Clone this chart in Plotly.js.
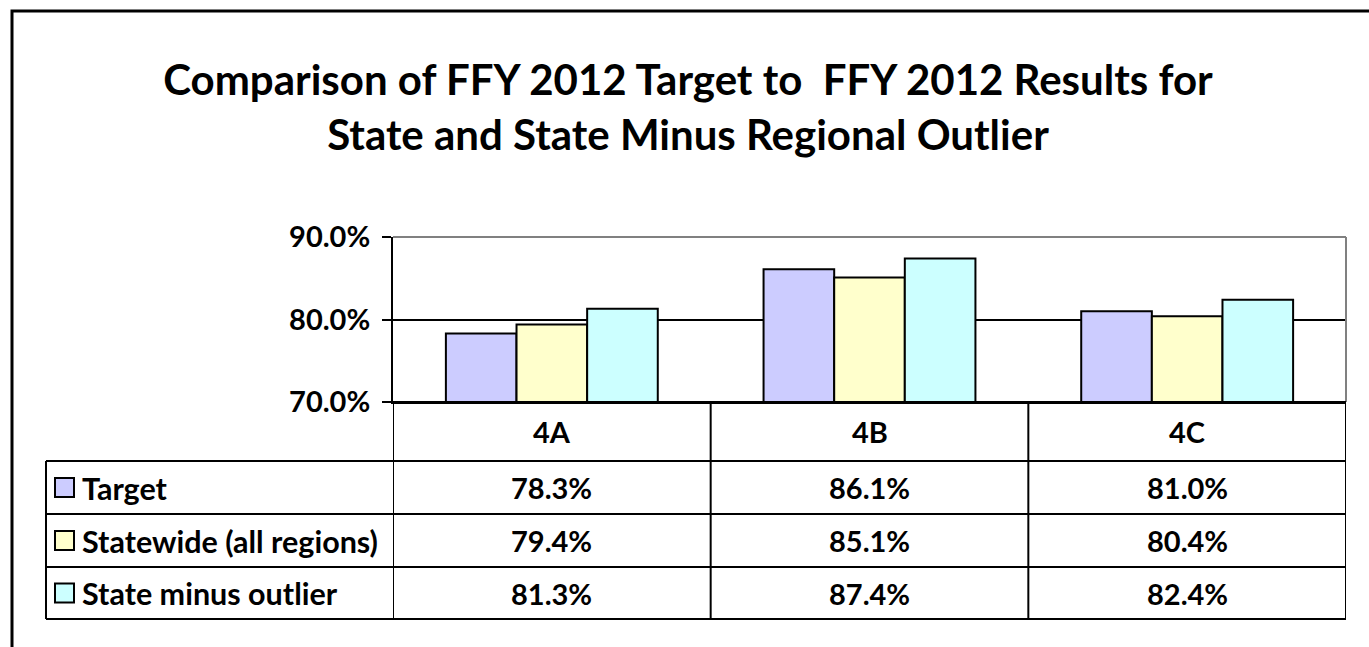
<!DOCTYPE html>
<html>
<head>
<meta charset="utf-8">
<script src="https://cdn.plot.ly/plotly-3.0.1.min.js"></script>
<style>
html,body{margin:0;padding:0;background:#fff;}
#chart{width:1369px;height:647px;}
</style>
</head>
<body>
<div id="chart"></div>
<script>
const categories = ['4A', '4B', '4C'];
const seriesNames = ['Target', 'Statewide (all regions)', 'State minus outlier'];
const target = [78.3, 86.1, 81.0];
const statewide = [79.4, 85.1, 80.4];
const stateMinusOutlier = [81.3, 87.4, 82.4];
const seriesColors = ['#CCCCFF', '#FFFFCC', '#CCFFFF'];
const yTicks = [70, 80, 90];

const seriesValues = [target, statewide, stateMinusOutlier];
const FONT = 'Lato, "Open Sans", sans-serif';
const fs = 29;

const traces = seriesValues.map((vals, i) => ({
  type: 'bar',
  name: seriesNames[i],
  x: categories,
  y: vals.map(v => v - 70),
  base: 70,
  marker: {color: seriesColors[i], line: {color: '#000', width: 2}},
  showlegend: false,
  hoverinfo: 'skip'
}));

// table geometry in paper coordinates (plot area: y 237..402 px => 165 px)
const ph = 165;
const py = px => (402 - px) / ph;
const rowLines = [402, 461, 514, 567, 619].map(py);
const rowCenters = [431.5, 487.5, 540.5, 593].map(py);
const legendLeft = (46 - 393) / 953;

const shapes = [];
const lineBlack = {color: '#000', width: 2};
// outer border
shapes.push({type: 'rect', xref: 'paper', yref: 'paper', x0: (12 - 393) / 953, x1: (1380 - 393) / 953, y0: py(660), y1: py(11), line: {color: '#000', width: 3}, layer: 'below'});
// plot top/right border gray
shapes.push({type: 'line', xref: 'paper', yref: 'paper', x0: 0, x1: 1, y0: 1, y1: 1, line: {color: '#808080', width: 2}});
shapes.push({type: 'line', xref: 'paper', yref: 'paper', x0: 1, x1: 1, y0: 0, y1: 1, line: {color: '#808080', width: 2}});
// horizontal table lines
shapes.push({type: 'line', xref: 'paper', yref: 'paper', x0: 0, x1: 1, y0: rowLines[0], y1: rowLines[0], line: lineBlack});
for (let r = 1; r < rowLines.length; r++) {
  shapes.push({type: 'line', xref: 'paper', yref: 'paper', x0: legendLeft, x1: 1, y0: rowLines[r], y1: rowLines[r], line: lineBlack});
}
// vertical table lines at category boundaries
for (let c = 0; c <= categories.length; c++) {
  shapes.push({type: 'line', xref: 'x', yref: 'paper', x0: c - 0.5, x1: c - 0.5, y0: rowLines[4], y1: rowLines[0], line: lineBlack});
}
shapes.push({type: 'line', xref: 'paper', yref: 'paper', x0: legendLeft, x1: legendLeft, y0: rowLines[4], y1: rowLines[1], line: lineBlack});

const annotations = [];
categories.forEach((c, i) => {
  annotations.push({xref: 'x', yref: 'paper', x: c, y: rowCenters[0], text: '<b>' + c + '</b>', showarrow: false, font: {family: FONT, size: fs, color: '#000'}, xanchor: 'center', yanchor: 'middle'});
  seriesValues.forEach((vals, s) => {
    annotations.push({xref: 'x', yref: 'paper', x: c, y: rowCenters[s + 1], text: '<b>' + vals[i].toFixed(1) + '%</b>', showarrow: false, font: {family: FONT, size: fs, color: '#000'}, xanchor: 'center', yanchor: 'middle'});
  });
});
seriesNames.forEach((n, s) => {
  const yc = rowCenters[s + 1];
  shapes.push({type: 'rect', xref: 'paper', yref: 'paper', x0: (55 - 393) / 953, x1: (74 - 393) / 953, y0: yc - 9.5 / ph, y1: yc + 9.5 / ph, fillcolor: seriesColors[s], line: {color: '#000', width: 2}});
  annotations.push({xref: 'paper', yref: 'paper', x: (80 - 393) / 953, y: yc, text: '<b>' + n + '</b>', showarrow: false, font: {family: FONT, size: 30.5, color: '#000'}, xanchor: 'left', yanchor: 'middle'});
});

const layout = {
  width: 1369, height: 647,
  margin: {l: 393, r: 23, t: 237, b: 245, pad: 0},
  paper_bgcolor: '#fff', plot_bgcolor: '#fff',
  barmode: 'group', bargap: 0.333, bargroupgap: 0,
  title: {
    text: '<b>Comparison of FFY 2012 Target to  FFY 2012 Results for<br>State and State Minus Regional Outlier</b>',
    font: {family: FONT, size: 42, color: '#000'},
    x: 688 / 1369, xanchor: 'center', xref: 'container',
    y: 1 - 95 / 647, yanchor: 'top', yref: 'container'
  },
  xaxis: {type: 'category', range: [-0.5, 2.5], showticklabels: false, ticks: '', showgrid: false, zeroline: false, showline: true, linecolor: '#000', linewidth: 2, fixedrange: true},
  yaxis: {range: [70, 90], tickvals: yTicks, ticktext: yTicks.map(v => '<b>' + v.toFixed(1) + '%</b>'), ticks: 'outside', ticklen: 9, tickwidth: 2, tickcolor: '#000', ticklabelstandoff: 6, showline: true, linecolor: '#000', linewidth: 2, showgrid: true, gridcolor: '#000', gridwidth: 2, zeroline: false, tickfont: {family: FONT, size: fs, color: '#000'}, fixedrange: true},
  shapes: shapes,
  annotations: annotations
};

Plotly.newPlot('chart', traces, layout, {displayModeBar: false, staticPlot: true});
</script>
</body>
</html>
